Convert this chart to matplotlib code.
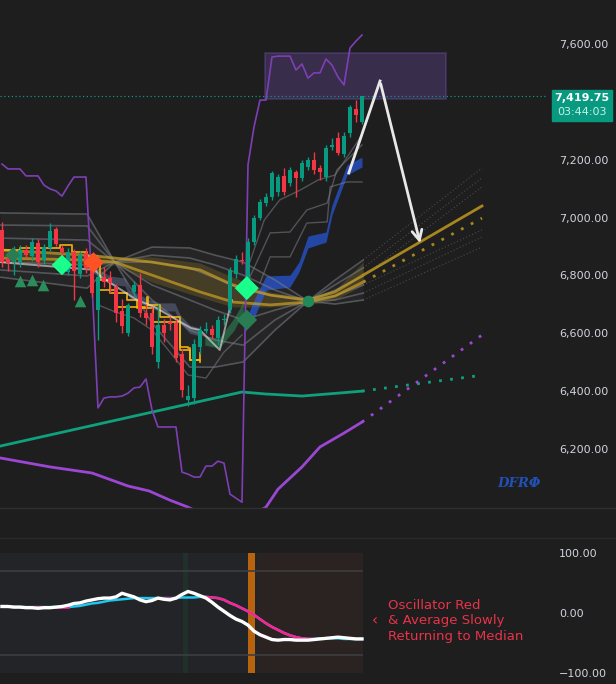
import matplotlib.pyplot as plt
from matplotlib.patches import Rectangle
from matplotlib.lines import Line2D

# ---- candles (bar index = position) ----
opens = [6957, 6860, 6846, 6846, 6888, 6867, 6912, 6853, 6895, 6960,
         6895, 6812, 6881, 6805, 6877, 6843, 6680, 6794, 6791, 6760,
         6677, 6601, 6743, 6767, 6670, 6670, 6501, 6628, 6639, 6635,
         6528, 6369, 6376, 6552, 6608, 6615, 6584, 6646, 6680, 6805,
         6853, 6774, 6915, 6998, 7050, 7071, 7088, 7144, 7120, 7157,
         7137, 7175, 7199, 7171, 7140, 7245, 7275, 7220, 7292, 7375, 7330]
highs = [6985, 6875, 6900, 6905, 6905, 6930, 6925, 6910, 6980, 6968,
         6905, 6895, 6890, 6885, 6895, 6850, 6810, 6830, 6815, 6770,
         6720, 6705, 6780, 6810, 6700, 6690, 6700, 6650, 6660, 6650,
         6545, 6420, 6580, 6625, 6640, 6630, 6660, 6665, 6830, 6870,
         6880, 6930, 7010, 7065, 7085, 7160, 7150, 7170, 7175, 7165,
         7200, 7210, 7225, 7180, 7250, 7275, 7295, 7295, 7390, 7405, 7420]
lows = [6829, 6815, 6800, 6830, 6860, 6850, 6830, 6840, 6885, 6900,
        6860, 6800, 6715, 6790, 6810, 6725, 6577, 6760, 6740, 6640,
        6600, 6590, 6725, 6655, 6630, 6530, 6480, 6570, 6610, 6500,
        6380, 6350, 6355, 6530, 6600, 6580, 6560, 6630, 6670, 6790,
        6840, 6760, 6905, 6990, 7040, 7060, 7075, 7078, 7110, 7070,
        7125, 7165, 7150, 7130, 7125, 7235, 7215, 7210, 7280, 7330, 7325]
closes = [6846, 6843, 6881, 6888, 6870, 6915, 6846, 6898, 6953, 6908,
          6881, 6881, 6815, 6870, 6825, 6739, 6794, 6777, 6774, 6670,
          6625, 6698, 6767, 6670, 6653, 6552, 6628, 6601, 6632, 6514,
          6404, 6383, 6563, 6611, 6615, 6594, 6646, 6649, 6819, 6857,
          6850, 6915, 6998, 7054, 7071, 7154, 7140, 7088, 7164, 7137,
          7189, 7199, 7164, 7157, 7240, 7250, 7223, 7282, 7382, 7355, 7419.75]
last_time = '03:44:03'

# thin purple stepped indicator (one value per bar)
range_line = [7185, 7168, 7168, 7168, 7144, 7144, 7144, 7112, 7099, 7092,
              7074, 7109, 7140, 7140, 7140, 6770, 6342, 6376, 6380, 6380,
              6383, 6393, 6411, 6414, 6442, 6335, 6276, 6276, 6276, 6276,
              6120, 6113, 6103, 6103, 6141, 6141, 6158, 6151, 6044, 6030,
              6016, 7182, 7313, 7406, 7406, 7555, 7558, 7558, 7558, 7510,
              7531, 7482, 7500, 7500, 7548, 7527, 7486, 7458, 7586, 7610, 7631]

# slow moving averages (bar, price) + dotted projections
ma_teal_x = [-0.3, 40, 44, 50, 56, 60]
ma_teal_y = [6210, 6397, 6390, 6383, 6393, 6400]
ma_teal_proj_x = [60, 80]
ma_teal_proj_y = [6400, 6455]

ma_purple_x = [-0.3, 8, 15, 21, 24.5, 28, 31, 35, 38, 42, 44, 46, 50, 53, 57, 60]
ma_purple_y = [6169, 6138, 6117, 6072, 6055, 6023, 5999, 5960, 5950, 5975,
               5999, 6061, 6138, 6207, 6255, 6293]
ma_purple_proj_x = [60, 80]
ma_purple_proj_y = [6293, 6594]

# gray envelope fan
fan_x = [-0.3, 14.2, 18.8, 25, 31.3, 35.5, 40.2, 45.5, 51, 55.5, 60.2]
fan_lines = [
    [7016, 7012, 6846, 6898, 6895, 6870, 6846, 6784, 6711, 6784, 6853],
    [6974, 6971, 6846, 6870, 6860, 6836, 6801, 6749, 6711, 6767, 6826],
    [6929, 6922, 6846, 6846, 6826, 6791, 6749, 6729, 6711, 6749, 6798],
    [6846, 6836, 6846, 6767, 6715, 6680, 6646, 6680, 6711, 6729, 6767],
    [6819, 6798, 6846, 6715, 6611, 6577, 6559, 6646, 6711, 6715, 6739],
    [6794, 6756, 6846, 6635, 6483, 6483, 6501, 6611, 6711, 6701, 6715],
]
fan_proj_x = [60.2, 80]
fan_proj_end = [7171, 7137, 7106, 6957, 6933, 6898]

# trailing gray lines
trail_a_x = [41.3, 44.7, 48, 50.8, 54.2, 55.8, 57.5, 60]
trail_a_y = [6794, 6947, 6950, 7026, 7050, 7164, 7199, 7251]
trail_b_x = [43, 44.7, 48, 50.8, 54.2, 54.7, 57.5, 60]
trail_b_y = [6774, 6864, 6864, 6981, 6985, 7106, 7123, 7123]
trail_c_x = [41.3, 43.7, 46.3, 49.7, 52.7, 55.5, 57.2, 60]
trail_c_y = [6846, 6991, 7061, 7095, 7130, 7147, 7199, 7285]
trail_d_x = [16, 19, 22, 25, 28, 31, 34, 37, 40]
trail_d_y = [6698, 6673, 6653, 6611, 6535, 6456, 6445, 6535, 6594]

# blue (bullish) ribbon
blue_x = [40.5, 42, 44, 48, 49.5, 51, 54, 55, 57.5, 60]
blue_top = [6639, 6715, 6798, 6801, 6846, 6936, 6950, 7043, 7182, 7209]
blue_bot = [6604, 6653, 6749, 6760, 6812, 6895, 6915, 7009, 7147, 7175]

# slate (bearish) ribbon
slate_x = [14.7, 16.3, 18, 20.5, 21.3, 24.7, 26.3, 28.8, 29.7, 31.3, 33]
slate_top = [6846, 6819, 6798, 6791, 6749, 6715, 6705, 6705, 6663, 6628, 6618]
slate_bot = [6818, 6791, 6770, 6763, 6721, 6687, 6677, 6677, 6635, 6600, 6590]

# green ribbon
green_x = [33.8, 36.2, 38.7, 40.2]
green_top = [6590, 6583, 6653, 6708]
green_bot = [6559, 6549, 6611, 6673]

# golden mean band
gold_x = [-0.3, 14.2, 18.8, 25, 33, 38.5, 44.7, 51, 55.5, 60.2]
gold_top = [6888, 6870, 6864, 6864, 6843, 6794, 6743, 6722, 6749, 6846]
gold_bot = [6846, 6836, 6836, 6777, 6725, 6691, 6691, 6698, 6715, 6767]
gold_line1 = [6888, 6870, 6860, 6846, 6819, 6767, 6732, 6715, 6743, 6801]
gold_line2 = [6860, 6853, 6846, 6801, 6743, 6708, 6698, 6708, 6729, 6777]
gold_proj_x = [60.2, 80]
gold_proj1 = [6801, 7040]
gold_proj2 = [6777, 6998]

# yellow stepped stops
yel1_x = [-0.3, 3, 9.7, 11.7, 14.2, 15.8, 16.3, 18, 20.8, 22.5, 24.2, 24.3, 26.3, 29.7, 31.3, 33]
yel1_y = [6888, 6895, 6905, 6881, 6867, 6846, 6784, 6739, 6715, 6687, 6725, 6698,
          6656, 6542, 6508, 6532]
yel2_x = [16.3, 18.8, 19.2, 23.8, 25.2, 28.8, 29.7, 31, 31.3, 33]
yel2_y = [6749, 6743, 6691, 6687, 6639, 6639, 6552, 6549, 6508, 6501]

# white stop line
white_x = [-0.3, 3, 15.5, 16.5, 22.5, 25.5, 31.5, 33, 36.3, 38.3]
white_y = [6846, 6840, 6819, 6795, 6715, 6690, 6618, 6611, 6542, 6715]

# signals
tri_x = [3, 5, 6.8, 13]
tri_y = [6781, 6784, 6767, 6712]
buy_diamonds = [(10, 6836), (40.8, 6756)]
dark_diamonds = [(1.8, 6870), (40.8, 6646)]
sell_diamond = (15.2, 6846)
cross_dot = (51, 6711)

# projected path drawing
arrow_x = [57.8, 63, 69.8]
arrow_y = [7154, 7472, 6902]

# purple target zone
zone_x = [43.8, 74]
zone_y = [7410, 7569]

price_ticks = [6200, 6400, 6600, 6800, 7000, 7200, 7600]

# ---- oscillator pane ----
osc = [11, 11, 10, 10, 9, 9, 8, 9, 9, 10, 11, 13, 16, 17, 20, 22, 24, 25, 25, 27,
       33, 30, 27, 22, 19, 21, 25, 23, 22, 25, 31, 36, 33, 29, 25, 18, 10, 3, -4, -10,
       -14, -20, -30, -36, -40, -44, -45, -44, -44, -45, -45, -45, -44, -43, -42, -41,
       -40, -41, -42, -43, -43]
signal = [11, 11, 10, 10, 10, 10, 10, 10, 10, 10, 10, 10, 11, 12, 14, 16, 17, 19, 21, 22,
          23, 24, 25, 25, 25, 25, 25, 25, 25, 25, 26, 26, 26, 27, 27, 26, 25, 22, 17, 13,
          8, 3, -3, -10, -17, -23, -28, -33, -37, -40, -42, -43, -43, -42, -42, -42, -42,
          -43, -43, -43, -43]
falling_spans = [(3, 11), (26, 29), (34, 52)]
osc_ticks = [100, 0, -100]
osc_tick_labels = ['100.00', '0.00', '\u2212100.00']

BG = '#1e1e1e'
UP = '#089981'
DOWN = '#f23645'
GRAY = '#7b7e87'
GOLD = '#c9a227'
W, H = 616, 684

fig = plt.figure(figsize=(W / 100, H / 100), dpi=100)
fig.patch.set_facecolor(BG)
ax = fig.add_axes([0, 176 / H, 548 / W, 508 / H])
ox = fig.add_axes([0, 0, 548 / W, 146 / H])

for a in (ax, ox):
    a.set_facecolor(BG)
    for s in a.spines.values():
        s.set_visible(False)
    a.set_xticks([])
    a.tick_params(axis='y', left=False, labelleft=False, right=True, labelright=True,
                  length=0, pad=8, labelcolor='#d1d4dc', labelsize=8)
    a.set_xlim(-0.33, 91)

ax.set_ylim(5996, 7752)
ax.set_yticks(price_ticks)
ax.set_yticklabels([f'{p:,.2f}' for p in price_ticks])

# envelope fan
ax.fill_between(fan_x, fan_lines[0], fan_lines[-1], color='white', alpha=0.035, lw=0)
for ln in fan_lines:
    ax.plot(fan_x, ln, color=GRAY, lw=1.2, alpha=0.55)
for start, end in zip([ln[-1] for ln in fan_lines], fan_proj_end):
    ax.plot(fan_proj_x, [start, end], color=GRAY, lw=0.8, alpha=0.45, ls=(0, (1, 2)))

for tx, ty in [(trail_a_x, trail_a_y), (trail_b_x, trail_b_y),
               (trail_c_x, trail_c_y), (trail_d_x, trail_d_y)]:
    ax.plot(tx, ty, color=GRAY, lw=1, alpha=0.55)

# gold band
ax.fill_between(gold_x, gold_top, gold_bot, color=GOLD, alpha=0.2, lw=0)
ax.plot(gold_x, gold_line1, color=GOLD, lw=2, alpha=0.7)
ax.plot(gold_x, gold_line2, color=GOLD, lw=2, alpha=0.7)
ax.plot(gold_proj_x, gold_proj1, color='#a8861f', lw=2)
ax.plot(gold_proj_x, gold_proj2, color='#a8861f', lw=2, ls=(0, (1, 3)))

# ribbons
ax.fill_between(slate_x, slate_top, slate_bot, color='#5a6482', alpha=0.6, lw=0)
ax.fill_between(blue_x, blue_top, blue_bot, color='#2962ff', alpha=0.6, lw=0)
ax.fill_between(green_x, green_top, green_bot, color='#2e8b57', alpha=0.55, lw=0)

# stops
ax.plot(yel1_x, yel1_y, color='#f5b70a', lw=1.3, drawstyle='steps-post', alpha=0.9)
ax.plot(yel2_x, yel2_y, color='#f5b70a', lw=1.3, drawstyle='steps-post', alpha=0.9)
ax.plot(white_x, white_y, color='#e6e6e6', lw=1.4, alpha=0.6)

# moving averages
ax.plot(ma_teal_x, ma_teal_y, color='#0fa07c', lw=2)
ax.plot(ma_teal_proj_x, ma_teal_proj_y, color='#0fa07c', lw=2, ls=(0, (1, 3)))
ax.plot(ma_purple_x, ma_purple_y, color='#9c47d4', lw=2)
ax.plot(ma_purple_proj_x, ma_purple_proj_y, color='#9c47d4', lw=2, ls=(0, (1, 3)))

# purple indicator + target zone
ax.plot(range(len(range_line)), range_line, color='#7e3fb5', lw=1.2)
ax.add_patch(Rectangle((zone_x[0], zone_y[0]), zone_x[1] - zone_x[0], zone_y[1] - zone_y[0],
                       facecolor='#7e57c2', alpha=0.28, edgecolor='#7e57c2', lw=1.5))

# last price line
ax.axhline(closes[-1], color=UP, lw=0.9, ls=(0, (1, 2)))

# candles
for i, (o, h, l, c) in enumerate(zip(opens, highs, lows, closes)):
    col = UP if c >= o else DOWN
    ax.vlines(i, l, h, color=col, lw=1, zorder=4)
    ax.bar(i, max(abs(c - o), 4), bottom=min(o, c), width=0.8, color=col, zorder=5)

# signal markers
ax.scatter(tri_x, tri_y, marker='^', s=70, color='#2b8c5c', zorder=6, lw=0)
ax.scatter([d[0] for d in buy_diamonds], [d[1] for d in buy_diamonds], marker='D',
           s=[110, 150], color='#1aff8c', zorder=7, lw=0)
ax.scatter([d[0] for d in dark_diamonds], [d[1] for d in dark_diamonds], marker='D',
           s=[60, 110], color='#2a7d52', zorder=7, lw=0)
ax.scatter([sell_diamond[0]], [sell_diamond[1]], marker='D', s=110, color='#ff5224',
           zorder=7, lw=0)
ax.scatter([cross_dot[0]], [cross_dot[1]], marker='o', s=70, color='#22895a', zorder=7, lw=0)

# drawn projection arrow
ax.plot(arrow_x[:2], arrow_y[:2], color='#e8e8e8', lw=2, zorder=8)
ax.annotate('', xy=(arrow_x[2], arrow_y[2]), xytext=(arrow_x[1], arrow_y[1]),
            arrowprops=dict(arrowstyle='->', color='#e8e8e8', lw=2, mutation_scale=18),
            zorder=8)

ax.text(82.5, 6079, 'DFR\u03a6', color='#2150b8', fontsize=9.5, fontstyle='italic',
        fontweight='bold', family='DejaVu Serif', ha='left', va='center')

# last price tag
fig.patches.append(Rectangle((552 / W, 1 - 121 / H), 60 / W, 31 / H,
                             transform=fig.transFigure, color=UP))
fig.text(582 / W, 1 - 98 / H, f'{closes[-1]:,.2f}', ha='center', va='center',
         color='white', fontsize=8, fontweight='bold')
fig.text(582 / W, 1 - 112 / H, last_time, ha='center', va='center',
         color='#c9efe6', fontsize=8)

# ---- oscillator ----
ox.set_ylim(-118, 125)
ox.set_yticks(osc_ticks)
ox.set_yticklabels(osc_tick_labels)
ox.fill_between([-0.33, 60.2], -100, 100, color='#232427', lw=0)
ox.fill_between([30.2, 31], -100, 100, color='#22302a', lw=0)
ox.fill_between([42.7, 60.2], -100, 100, color='#2b2321', lw=0)
ox.fill_between([41, 42.2], -100, 100, color='#b8640f', lw=0)
ox.hlines([70, -70], -0.33, 60.2, color='#3d3e42', lw=1.2)

bars = list(range(len(osc)))
ox.plot(bars, signal, color='#1fc6ef', lw=1.8)
for s, e in falling_spans:
    ox.plot(bars[s:e + 1], signal[s:e + 1], color='#ff1f8e', lw=1.8)
ox.plot(bars, osc, color='white', lw=2.4)

ox.text(62.2, -12, '\u2039', color='#e8334a', fontsize=11, ha='center', va='center')
ox.text(64.4, -13, 'Oscillator Red\n& Average Slowly\nReturning to Median',
        color='#e8334a', fontsize=9.5, ha='left', va='center', linespacing=1.25)

# pane separators
fig.add_artist(Line2D([0, 1], [1 - 508 / H] * 2, color='#2f2f2f', lw=1))
fig.add_artist(Line2D([0, 1], [1 - 538 / H] * 2, color='#2a2a2a', lw=1))

fig.savefig('out.png', dpi=100, facecolor=BG)
